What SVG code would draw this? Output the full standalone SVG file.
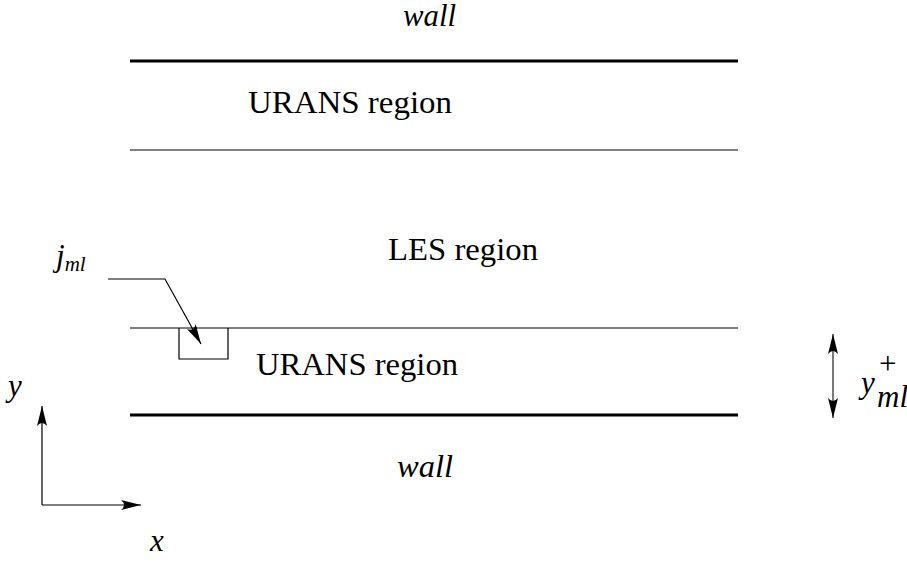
<svg xmlns="http://www.w3.org/2000/svg" width="907" height="563" viewBox="0 0 907 563">
<style>
.t{font-family:"Liberation Serif","DejaVu Serif",serif;font-size:31px;fill:#000}
.i{font-style:italic}
.thick{stroke:#000;stroke-width:3;fill:none}
.thin{stroke:#000;stroke-width:1.2;fill:none}
</style>
<defs>
<marker id="ah" viewBox="0 0 20 10" refX="20" refY="5" markerWidth="20" markerHeight="10" markerUnits="userSpaceOnUse" orient="auto-start-reverse">
<path d="M0,0 Q6,5 0,10 L20,5 Z" fill="#000"/>
</marker>
</defs>
<rect width="907" height="563" fill="#fff"/>
<g id="walls">
<line class="thick" x1="130" y1="61" x2="738" y2="61"/>
<line class="thin" x1="130" y1="150" x2="738" y2="150"/>
<line class="thin" x1="130" y1="328" x2="738" y2="328"/>
<line class="thick" x1="130" y1="415" x2="738" y2="415"/>
</g>
<g id="labels">
<text class="t i" x="403" y="26" font-size="25" textLength="53" lengthAdjust="spacingAndGlyphs">wall</text>
<text class="t" x="248" y="113" textLength="204" lengthAdjust="spacingAndGlyphs">URANS region</text>
<text class="t" x="388" y="260" textLength="150" lengthAdjust="spacingAndGlyphs">LES region</text>
<text class="t" x="256" y="375" textLength="202" lengthAdjust="spacingAndGlyphs">URANS region</text>
<text class="t i" x="397" y="477" font-size="29" textLength="56" lengthAdjust="spacingAndGlyphs">wall</text>
</g>
<g id="cell">
<path class="thin" d="M179,328 V359 H228 V328"/>
</g>
<g id="jml">
<text class="t i" x="56" y="266">j<tspan font-size="21" dy="5">ml</tspan></text>
</g>
<g id="yml">
<text class="t i" x="861" y="393">y</text>
<text class="t" x="879" y="374" font-size="20">+</text>
<text class="t i" x="877" y="407" font-size="21">ml</text>
</g>
<g id="axes">
<text class="t i" x="8" y="396">y</text>
<text class="t i" x="150" y="551">x</text>
</g>
<g id="connectors">
<path class="thin" d="M108,279 H165 L201,344" marker-end="url(#ah)"/>
<line stroke="#333" stroke-width="1.3" x1="833" y1="334" x2="833" y2="418" marker-start="url(#ah)" marker-end="url(#ah)"/>
<line class="thin" x1="42" y1="505" x2="42" y2="406" marker-end="url(#ah)"/>
<line class="thin" x1="42" y1="505" x2="141" y2="505" marker-end="url(#ah)"/>
</g>
</svg>
